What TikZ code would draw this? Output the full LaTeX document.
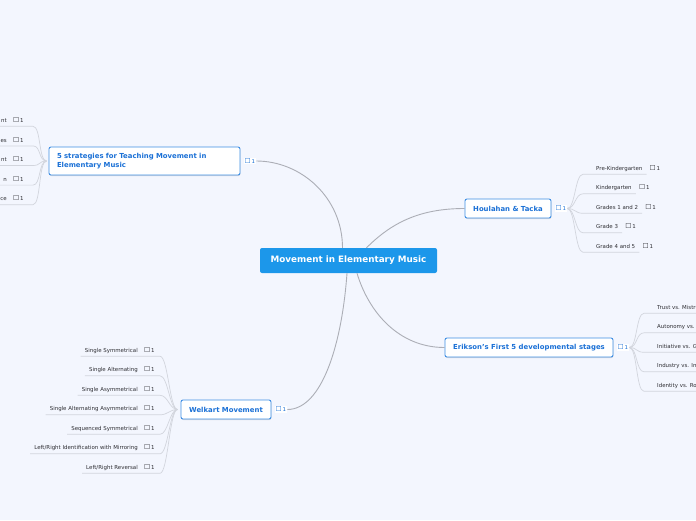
\documentclass[tikz,border=0pt]{standalone}
\usepackage{fontspec}
\setmainfont{DejaVu Sans}
\usetikzlibrary{
  positioning,
  shadows
}
\definecolor{pagebg}{RGB}{243,246,254}
\definecolor{rootblue}{RGB}{28,151,234}
\definecolor{topictext}{RGB}{26,112,214}
\definecolor{topicedge}{RGB}{62,142,228}
\definecolor{linkgray}{RGB}{172,174,182}
\definecolor{twiggray}{RGB}{210,213,221}
\definecolor{leaftext}{RGB}{45,45,50}
\newcommand{\notebox}{{\fontsize{6.8}{6}\selectfont ☐}}
\tikzset{
  root/.style={fill=rootblue, rounded corners=2pt, text=white, inner sep=0pt,
    font=\bfseries\fontsize{8.8}{9}\selectfont, minimum width=177pt, minimum height=25pt},
  topic/.style={draw=topicedge, fill=white, line width=0.9pt, rounded corners=2pt,
    text=topictext, inner sep=0pt, minimum height=19pt,
    font=\bfseries\fontsize{6.9}{9}\selectfont,
    drop shadow={shadow xshift=0.4pt, shadow yshift=-1pt, opacity=0.25}},
  badge/.style={fill=white, inner sep=1pt, text=topictext, font=\fontsize{5.4}{6}\selectfont},
  leaf/.style={inner xsep=0pt, inner ysep=2.5pt, text height=4pt, text depth=1.2pt,
    text=leaftext, font=\fontsize{5.45}{6}\selectfont},
  link/.style={draw=linkgray, line width=0.9pt},
  twig/.style={draw=twiggray, line width=0.7pt}
}

\begin{document}
\begin{tikzpicture}[x=1pt, y=-1pt]

  \fill[pagebg] (0,0) rectangle (696,520);
  \clip (0,0) rectangle (696,520);

  % -- root --
  \node[root] (root) at (348.5,260.5) {Movement in Elementary Music};

  % -- topics --
  \node[topic, text width=175pt, align=left, inner xsep=8pt, minimum height=28pt]
    (s) at (144.5,161) {5 strategies for Teaching Movement in\\Elementary Music};
  \node[topic, minimum width=86pt]  (h) at (508,208.5) {Houlahan \& Tacka};
  \node[topic, minimum width=168pt] (e) at (529,347.5) {Erikson's First 5 developmental stages};
  \node[topic, minimum width=90pt]  (w) at (226,409.5) {Welkart Movement};

  \node[badge, right=3pt of s] (sb) {\notebox\,1};
  \node[badge, right=3pt of h] (hb) {\notebox\,1};
  \node[badge, right=3pt of e] (eb) {\notebox\,1};
  \node[badge, right=3pt of w] (wb) {\notebox\,1};

  % root links
  \draw[link] ([xshift=-6pt]root.north) .. controls +(0,-50) and +(45,0) .. (sb.east);
  \draw[link] ([xshift=18pt]root.north) .. controls +(25,-25) and +(-45,0) .. (h.west);
  \draw[link] ([xshift=8.5pt]root.south) .. controls +(12,40) and +(-45,0) .. (e.west);
  \draw[link] ([xshift=-1.5pt]root.south) .. controls +(-5,70) and +(35,0) .. (wb.east);

  % -- 5 strategies (cut at the left edge) --
  \coordinate (sfan) at ([xshift=-2pt]s.west);
  \foreach \t [count=\i from 0] in {nt, es, nt, n, ce} {
    \node[leaf, anchor=east] (l\i) at (7,121+19.6*\i) {\t};
    \node[leaf, right=6pt of l\i] {\notebox\,1};
    \draw[twig] (sfan) .. controls +(-8,0) and +(8,0) .. ([xshift=26pt]l\i.south east)
      -- ([xshift=-20pt]l\i.south west);
  }

  % -- Houlahan & Tacka --
  \coordinate (hfan) at (hb.east);
  \foreach \t [count=\i from 0] in {Pre-Kindergarten, Kindergarten, Grades 1 and 2,
      Grade 3, Grade 4 and 5} {
    \node[leaf, anchor=west] (h\i) at (596,169+19.5*\i) {\t};
    \node[leaf, right=7pt of h\i] {\notebox\,1};
    \draw[twig] (hfan) .. controls +(8,0) and +(-8,0) .. ([xshift=-13pt]h\i.south west)
      -- ([xshift=4pt]h\i.south east);
  }

  % -- Erikson (cut at the right edge) --
  \coordinate (efan) at (eb.east);
  \foreach \t [count=\i from 0] in {Trust vs. Mistrust, Autonomy vs. Shame and Doubt,
      Initiative vs. Guilt, Industry vs. Inferiority, Identity vs. Role Confusion} {
    \node[leaf, anchor=west] (e\i) at (657,308+19.5*\i) {\t};
    \draw[twig] (efan) .. controls +(8,0) and +(-8,0) .. ([xshift=-13pt]e\i.south west)
      -- ([xshift=4pt]e\i.south east);
  }

  % -- Welkart Movement --
  \coordinate (wfan) at ([xshift=-3pt]w.west);
  \foreach \t [count=\i from 0] in {Single Symmetrical, Single Alternating,
      Single Asymmetrical, Single Alternating Asymmetrical, Sequenced Symmetrical,
      {Left/Right Identification with Mirroring}, Left/Right Reversal} {
    \node[leaf, anchor=east] (w\i) at (138,351+19.5*\i) {\t};
    \node[leaf, right=6pt of w\i] {\notebox\,1};
    \draw[twig] (wfan) .. controls +(-8,0) and +(8,0) .. ([xshift=22pt]w\i.south east)
      -- ([xshift=-4pt]w\i.south west);
  }

\end{tikzpicture}
\end{document}
